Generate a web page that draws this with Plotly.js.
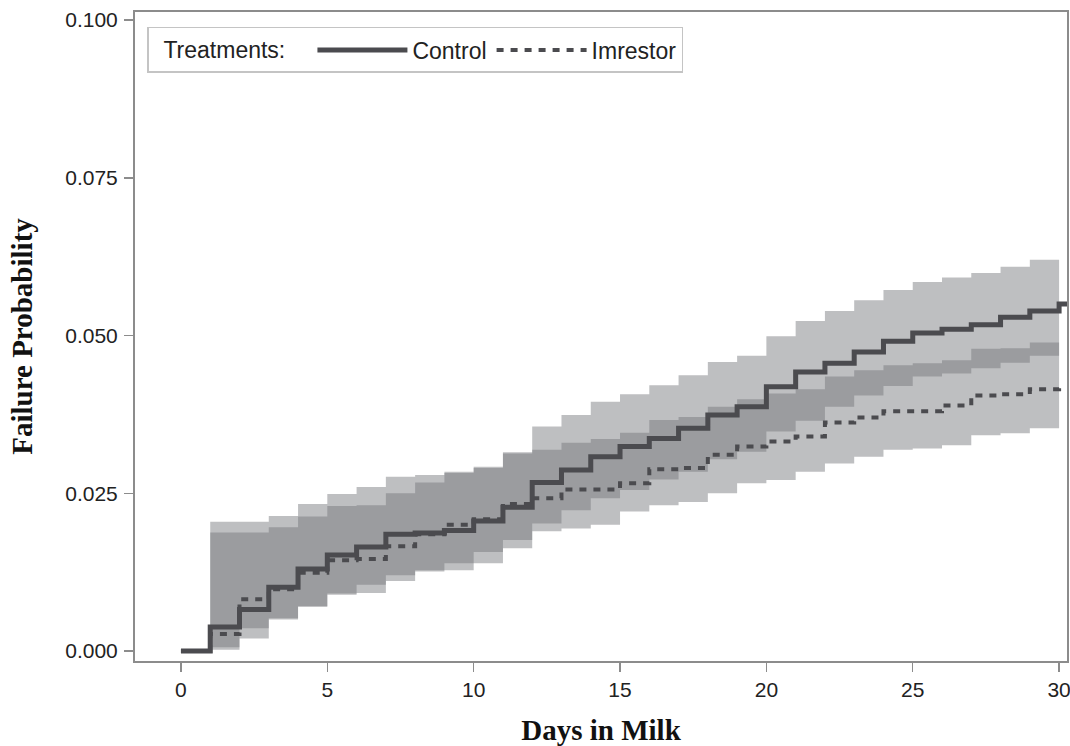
<!DOCTYPE html>
<html>
<head>
<meta charset="utf-8">
<script src="https://cdn.plot.ly/plotly-3.0.1.min.js"></script>
<style>html,body{margin:0;padding:0;background:#fff}#chart{width:1070px;height:746px}</style>
</head>
<body>
<div id="chart"></div>
<script>
// Days in milk (step start days)
var days = [0,1,2,3,4,5,6,7,8,9,10,11,12,13,14,15,16,17,18,19,20,21,22,23,24,25,26,27,28,29,30];
var lineEndDay = 31; // last value carried to the right edge of the axis

// Failure probability estimates
var control  = [0,0.0038,0.0066,0.0101,0.0130,0.0152,0.0165,0.0185,0.0187,0.0191,0.0206,0.0228,0.0267,0.0287,0.0308,0.0324,0.0337,0.0353,0.0374,0.0387,0.0419,0.0442,0.0456,0.0474,0.0491,0.0504,0.0510,0.0517,0.0529,0.0539,0.0550];
var imrestor = [0,0.0027,0.0082,0.0098,0.0124,0.0144,0.0146,0.0166,0.0185,0.0200,0.0209,0.0233,0.0242,0.0256,0.0256,0.0266,0.0288,0.0290,0.0311,0.0324,0.0332,0.0340,0.0362,0.0370,0.0380,0.0380,0.0389,0.0405,0.0407,0.0415,0.0419];

// Confidence bands (days 1..30)
var bandDays   = [1,2,3,4,5,6,7,8,9,10,11,12,13,14,15,16,17,18,19,20,21,22,23,24,25,26,27,28,29,30];
var controlHi  = [0.0205,0.0205,0.0214,0.0233,0.0249,0.0260,0.0276,0.0279,0.0284,0.0292,0.0315,0.0356,0.0374,0.0395,0.0407,0.0421,0.0437,0.0458,0.0468,0.0499,0.0523,0.0539,0.0556,0.0572,0.0585,0.0592,0.0599,0.0609,0.0620,0.0620];
var controlLo  = [0.0006,0.0036,0.0052,0.0071,0.0091,0.0105,0.0120,0.0128,0.0139,0.0157,0.0176,0.0202,0.0223,0.0242,0.0255,0.0272,0.0284,0.0304,0.0316,0.0348,0.0365,0.0387,0.0405,0.0420,0.0435,0.0440,0.0448,0.0457,0.0468,0.0468];
var imrestorHi = [0.0188,0.0188,0.0196,0.0213,0.0230,0.0231,0.0250,0.0267,0.0282,0.0290,0.0313,0.0319,0.0330,0.0336,0.0346,0.0366,0.0371,0.0387,0.0399,0.0408,0.0415,0.0435,0.0445,0.0453,0.0456,0.0461,0.0479,0.0480,0.0489,0.0489];
var imrestorLo = [0.0002,0.0020,0.0050,0.0070,0.0089,0.0092,0.0111,0.0126,0.0128,0.0139,0.0163,0.0190,0.0194,0.0200,0.0221,0.0231,0.0236,0.0250,0.0266,0.0271,0.0284,0.0297,0.0308,0.0319,0.0321,0.0326,0.0342,0.0345,0.0353,0.0353];

var yTicks = [0, 0.025, 0.05, 0.075, 0.1];
var xTicks = [0, 5, 10, 15, 20, 25, 30];

var bandFill = 'rgba(114,115,119,0.46)';
var lineColor = '#4b4b4f';

function band(lo, hi) {
  return [
    {x: bandDays, y: lo, type: 'scatter', mode: 'lines', line: {shape: 'hv', width: 0}, showlegend: false, hoverinfo: 'skip'},
    {x: bandDays, y: hi, type: 'scatter', mode: 'lines', line: {shape: 'hv', width: 0}, fill: 'tonexty', fillcolor: bandFill, showlegend: false, hoverinfo: 'skip'}
  ];
}

var ctrlX = days.concat([lineEndDay]);
var ctrlY = control.concat([control[control.length - 1]]);

var traces = []
  .concat(band(controlLo, controlHi))
  .concat(band(imrestorLo, imrestorHi))
  .concat([
    {x: days, y: imrestor, type: 'scatter', mode: 'lines', name: 'Imrestor',
     line: {shape: 'hv', color: lineColor, width: 4, dash: '7px,7px'}, legendrank: 2},
    {x: ctrlX, y: ctrlY, type: 'scatter', mode: 'lines', name: 'Control',
     line: {shape: 'hv', color: lineColor, width: 5}, legendrank: 1}
  ]);

var sans = 'Liberation Sans, Arial, sans-serif';
var tickFont = {family: sans, size: 21, color: '#222'};
var titleFont = {family: 'Liberation Serif, Times New Roman, serif', size: 29, color: '#111', weight: 'bold'};

var layout = {
  width: 1070, height: 746,
  margin: {l: 135, r: 3, t: 12, b: 85},
  paper_bgcolor: '#fff', plot_bgcolor: '#fff',
  showlegend: true,
  legend: {
    orientation: 'h', x: 0.013, y: 0.977, xanchor: 'left', yanchor: 'top',
    bgcolor: '#fff', bordercolor: '#c4c4c4', borderwidth: 1.5,
    font: {family: sans, size: 23, color: '#222'},
    title: {text: '\u00a0\u00a0Treatments:\u00a0\u00a0\u00a0', side: 'left', font: {family: sans, size: 23, color: '#222'}},
    itemwidth: 90, traceorder: 'normal'
  },
  xaxis: {
    range: [-1.57, 30.27], tickvals: xTicks, ticktext: xTicks.map(String),
    showgrid: false, zeroline: false, showline: true, mirror: true,
    linecolor: '#8c8c8c', linewidth: 2,
    ticks: 'outside', ticklen: 9, tickwidth: 1.5, tickcolor: '#8c8c8c',
    tickfont: tickFont, ticklabeloverflow: 'allow',
    title: {text: 'Days in Milk', font: titleFont, standoff: 24}
  },
  yaxis: {
    range: [-0.00158, 0.10127], tickvals: yTicks, ticktext: yTicks.map(function (v) { return v.toFixed(3); }),
    showgrid: false, zeroline: false, showline: true, mirror: true,
    linecolor: '#8c8c8c', linewidth: 2,
    ticks: 'outside', ticklen: 9, tickwidth: 1.5, tickcolor: '#8c8c8c',
    tickfont: tickFont, ticklabelstandoff: 2,
    title: {text: 'Failure Probability', font: titleFont, standoff: 24}
  }
};

Plotly.newPlot('chart', traces, layout, {displayModeBar: false, staticPlot: true});
</script>
</body>
</html>
